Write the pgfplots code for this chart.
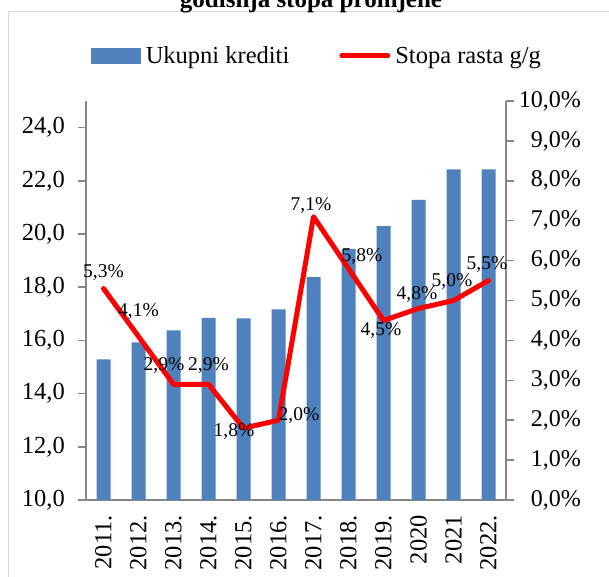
\documentclass[border=0pt]{standalone}
\usepackage{pgfplots}
\pgfplotsset{compat=1.18}
\usepackage{pgfplotstable}
\usepackage{fontspec}
\setmainfont{Liberation Serif}
\definecolor{barblue}{RGB}{79,129,189}
\definecolor{axisgray}{RGB}{134,134,134}
\definecolor{framegray}{RGB}{217,217,217}
\definecolor{linered}{RGB}{255,0,0}

\pgfplotstableread{
x val
0 15.29
1 15.93
2 16.38
3 16.85
4 16.83
5 17.17
6 18.38
7 19.44
8 20.30
9 21.28
10 22.43
11 22.43
}\credits

\pgfplotstableread{
x rate dx dy
0 5.3 0 15.7
1 4.1 0 25
2 2.9 -9.5 18.7
3 2.9 0 18.7
4 1.8 -9.5 -3
5 2.0 20.5 4.5
6 7.1 -2.5 10.7
7 5.8 13.5 12.3
8 4.5 -2.5 -9.8
9 4.8 -1.5 13.7
10 5.0 -1.5 19.2
11 5.5 -1.5 16.2
}\rates

\begin{document}
\begin{tikzpicture}
\useasboundingbox (0,0) rectangle (609pt,576pt);
\clip (0,0) rectangle (609pt,576pt);
% chart frame
\draw[framegray, line width=1pt] (8pt,-20pt) -- (8pt,564.5pt) -- (640pt,564.5pt);
% title (partially cut off at top, as in the reference)
\node[anchor=base, inner sep=0pt, font=\fontsize{25}{30}\selectfont\bfseries] at (311pt,568.5pt) {godišnja stopa promjene};

\begin{axis}[
  at={(86pt,76pt)}, anchor=south west,
  scale only axis, width=420pt, height=399pt,
  xmin=-0.5, xmax=11.5, ymin=10, ymax=25,
  axis x line*=bottom, axis y line*=left,
  axis line style={axisgray, line width=1.5pt},
  /pgf/number format/assume math mode=true,
  ytick={10,12,...,24},
  yticklabel={\pgfmathprintnumber[fixed,fixed zerofill,precision=1,use comma]{\tick}},
  xtick={0,...,11},
  xticklabels={2011.,2012.,2013.,2014.,2015.,2016.,2017.,2018.,2019.,2020,2021,2022.},
  tick label style={font=\fontsize{24.5}{28}\selectfont, text=black},
  x tick label style={rotate=90, anchor=east, inner sep=0pt, xshift=-7pt},
  y tick label style={anchor=east, inner sep=0pt, xshift=-13pt},
  xtick style={draw=none},
  ytick style={axisgray, line width=1.5pt},
  tick align=outside, major tick length=8pt,
  ticklabel shift=0pt,
]
\addplot[ybar, bar width=14pt, bar shift=0pt, fill=barblue, draw=none] table[x=x, y=val] {\credits};
\end{axis}

\begin{axis}[
  at={(86pt,76pt)}, anchor=south west,
  scale only axis, width=420pt, height=399pt,
  xmin=-0.5, xmax=11.5, ymin=0, ymax=10,
  axis y line*=right, hide x axis,
  axis line style={axisgray, line width=1.5pt},
  /pgf/number format/assume math mode=true,
  ytick={0,1,...,10},
  yticklabel={\pgfmathprintnumber[fixed,fixed zerofill,precision=1,use comma]{\tick}\%},
  tick label style={font=\fontsize{24}{28}\selectfont, text=black},
  y tick label style={anchor=east, inner sep=0pt, xshift=67pt},
  ytick style={axisgray, line width=1.5pt},
  tick align=outside, major tick length=8pt,
  ticklabel shift=0pt,
  clip=false,
  legend columns=2,
  legend style={draw=none, fill=none, at={(0.548,1.113)}, anchor=center,
    font=\fontsize{24.5}{28}\selectfont, inner sep=0pt,
    nodes={inner sep=0pt},
    /tikz/every odd column/.append style={column sep=5pt},
    /tikz/every even column/.append style={column sep=50pt}},
]
\addlegendimage{legend image code/.code={\fill[barblue] (0pt,-7.5pt) rectangle (49pt,7.5pt);}}
\addlegendentry{Ukupni krediti}
\addplot[linered, line width=5pt, line join=round, line cap=round, mark=none,
  point meta=explicit,
  visualization depends on={\thisrow{dx}\as\dx},
  visualization depends on={\thisrow{dy}\as\dy},
  nodes near coords={\pgfmathprintnumber[fixed,fixed zerofill,precision=1,use comma]{\pgfplotspointmeta}\%},
  nodes near coords style={anchor=center, inner sep=0pt, text=black,
    font=\fontsize{19.5}{22}\selectfont, xshift=\dx pt, yshift=\dy pt},
  legend image code/.code={\draw[linered, line width=5pt, line cap=round] (2.5pt,0pt) -- (48.5pt,0pt);}
] table[x=x, y=rate, meta=rate] {\rates};
\addlegendentry{Stopa rasta g/g}
\end{axis}
\end{tikzpicture}
\end{document}
